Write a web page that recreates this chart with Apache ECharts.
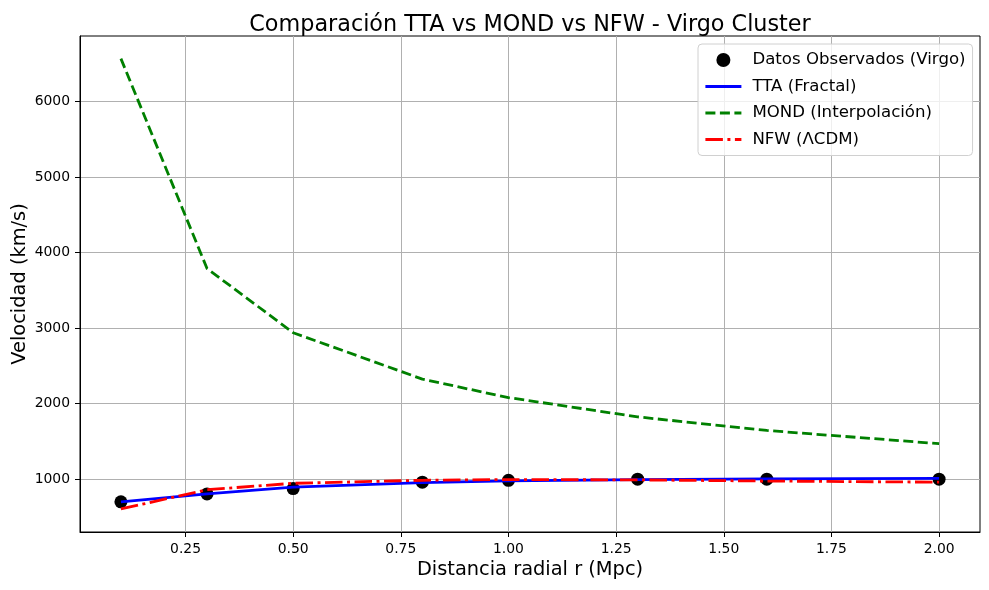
<!DOCTYPE html>
<html>
<head>
<meta charset="utf-8">
<title>Comparación TTA vs MOND vs NFW - Virgo Cluster</title>
<script src="https://cdn.jsdelivr.net/npm/echarts@6/dist/echarts.min.js"></script>
<style>
    html, body { margin: 0; padding: 0; background: #fff; }
    #chart-main { width: 989px; height: 590px; }
</style>
</head>
<body>
<div id="chart-main"></div>
<script>
    'use strict';

    // radio en Mpc
    var radios = [0.1, 0.3, 0.5, 0.8, 1.0, 1.3, 1.6, 2.0];
    // velocidades (km/s)
    var observados = [700, 805, 875, 960, 985, 1000, 1000, 1000];
    var tta = [700, 805, 895, 955, 978, 995, 1005, 1010];
    var mond = [6570, 3790, 2940, 2325, 2080, 1825, 1645, 1470];
    var nfw = [605, 860, 945, 985, 995, 990, 975, 960];

    var xTicks = [0.25, 0.5, 0.75, 1.0, 1.25, 1.5, 1.75, 2.0];
    var yTicks = [1000, 2000, 3000, 4000, 5000, 6000];

    var font = 'DejaVu Sans';

    function pares(ys) {
        var out = [];
        for (var i = 0; i < radios.length; i++) {
            out.push([radios[i], ys[i]]);
        }
        return out;
    }

    // las lineas no llevan marcador en la leyenda
    var sinMarcador = { opacity: 0 };

    var option = {
        animation: false,
        backgroundColor: '#fff',
        textStyle: { fontFamily: font },
        title: {
            text: 'Comparación TTA vs MOND vs NFW - Virgo Cluster',
            left: 525,
            textAlign: 'center',
            top: 9,
            textStyle: { fontFamily: font, fontSize: 22.3, fontWeight: 'normal', color: '#000' }
        },
        legend: {
            left: 698,
            top: 44,
            orient: 'vertical',
            padding: [6, 7, 6, 6],
            itemGap: 6.5,
            itemWidth: 36,
            itemHeight: 14,
            borderColor: '#d0d0d0',
            borderWidth: 1,
            borderRadius: 4,
            backgroundColor: 'rgba(255,255,255,0.8)',
            textStyle: { fontFamily: font, fontSize: 16.6, color: '#000', lineHeight: 20, padding: [0, 0, 0, 6] },
            data: [
                { name: 'Datos Observados (Virgo)', icon: 'circle', itemStyle: { color: '#000', opacity: 1 } },
                { name: 'TTA (Fractal)', itemStyle: sinMarcador, lineStyle: { width: 2.8 } },
                { name: 'MOND (Interpolación)', itemStyle: sinMarcador, lineStyle: { width: 2.8 } },
                { name: 'NFW (ΛCDM)', itemStyle: sinMarcador, lineStyle: { width: 2.8 } }
            ]
        },
        grid: {
            left: 80,
            right: 9,
            top: 36,
            bottom: 58,
            outerBoundsMode: 'none',
            show: true,
            borderColor: '#000',
            borderWidth: 1
        },
        xAxis: {
            type: 'value',
            min: 0.005,
            max: 2.095,
            name: 'Distancia radial r (Mpc)',
            nameLocation: 'middle',
            nameGap: 28,
            nameMoveOverlap: false,
            nameTextStyle: { fontFamily: font, fontSize: 19.4, color: '#000' },
            axisLine: { show: true, onZero: false, lineStyle: { color: '#000', width: 1 } },
            axisTick: { show: true, inside: false, length: 5, customValues: xTicks, lineStyle: { color: '#000' } },
            axisLabel: {
                customValues: xTicks,
                fontFamily: font, fontSize: 13.9, color: '#000', margin: 10,
                formatter: function (v) { return v.toFixed(2); }
            },
            splitLine: { show: true, lineStyle: { color: '#b0b0b0', width: 1 } }
        },
        yAxis: {
            type: 'value',
            min: 300,
            max: 6870,
            name: 'Velocidad (km/s)',
            nameLocation: 'middle',
            nameGap: 51,
            nameMoveOverlap: false,
            nameTextStyle: { fontFamily: font, fontSize: 19.4, color: '#000' },
            axisLine: { show: true, onZero: false, lineStyle: { color: '#000', width: 1 } },
            axisTick: { show: true, inside: false, length: 5, customValues: yTicks, lineStyle: { color: '#000' } },
            axisLabel: {
                customValues: yTicks,
                fontFamily: font, fontSize: 13.9, color: '#000', margin: 10,
                formatter: function (v) { return String(v); }
            },
            splitLine: { show: true, lineStyle: { color: '#b0b0b0', width: 1 } }
        },
        series: [
            {
                name: 'Datos Observados (Virgo)',
                type: 'scatter',
                data: pares(observados),
                symbol: 'circle',
                symbolSize: 13,
                itemStyle: { color: '#000', opacity: 1 },
                z: 2
            },
            {
                name: 'TTA (Fractal)',
                type: 'line',
                data: pares(tta),
                showSymbol: false,
                symbol: 'none',
                itemStyle: { color: '#0000ff' },
                lineStyle: { color: '#0000ff', width: 2.8, type: 'solid' },
                z: 3
            },
            {
                name: 'MOND (Interpolación)',
                type: 'line',
                data: pares(mond),
                showSymbol: false,
                symbol: 'none',
                itemStyle: { color: '#008000' },
                lineStyle: { color: '#008000', width: 2.8, type: [10, 4.5] },
                z: 4
            },
            {
                name: 'NFW (ΛCDM)',
                type: 'line',
                data: pares(nfw),
                showSymbol: false,
                symbol: 'none',
                itemStyle: { color: '#ff0000' },
                lineStyle: { color: '#ff0000', width: 2.8, type: [17.5, 4.5, 3, 4.5] },
                z: 5
            }
        ]
    };

    var myChart = echarts.init(document.getElementById('chart-main'));
    myChart.setOption(option);
</script>
</body>
</html>
